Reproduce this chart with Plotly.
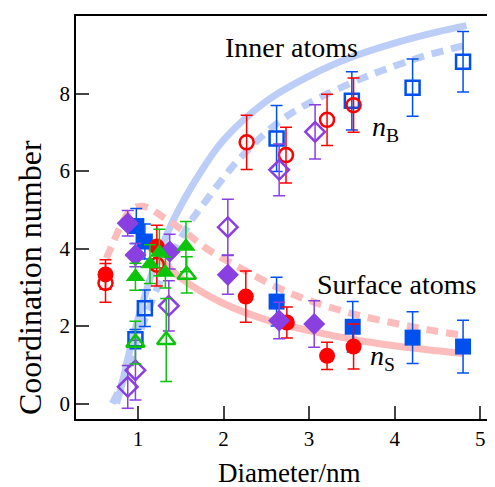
import plotly.graph_objects as go

# ---- data ----
# red circles
red_s_x = [0.62, 1.22, 2.26, 2.74, 3.21, 3.52]
red_s_y = [3.33, 4.05, 2.76, 2.09, 1.23, 1.47]
red_s_e = [0.38, 0.55, 0.66, 0.40, 0.35, 0.58]
red_b_x = [0.62, 1.22, 2.27, 2.73, 3.21, 3.52]
red_b_y = [3.11, 3.58, 6.74, 6.41, 7.32, 7.70]
red_b_e = [0.50, 0.55, 0.70, 0.72, 0.66, 0.70]
# blue squares
blue_s_x = [0.98, 1.08, 2.62, 3.51, 4.21, 4.80]
blue_s_y = [4.58, 4.18, 2.63, 1.98, 1.70, 1.47]
blue_s_e = [0.45, 0.45, 0.63, 0.65, 0.67, 0.68]
blue_b_x = [0.97, 1.08, 2.62, 3.50, 4.21, 4.80]
blue_b_y = [1.66, 2.46, 6.84, 7.81, 8.15, 8.82]
blue_b_e = [0.25, 0.47, 0.85, 0.75, 0.74, 0.78]
# purple diamonds
pur_s_x = [0.88, 0.97, 1.37, 2.05, 2.65, 3.06]
pur_s_y = [4.65, 3.83, 3.92, 3.32, 2.14, 2.05]
pur_s_e = [0.33, 0.30, 0.45, 0.50, 0.47, 0.60]
pur_b_x = [0.88, 0.97, 1.36, 2.05, 2.65, 3.07]
pur_b_y = [0.43, 0.86, 2.52, 4.55, 6.03, 7.01]
pur_b_e = [0.55, 0.77, 0.65, 0.72, 0.67, 0.70]
# green triangles
grn_s_x = [0.97, 1.14, 1.25, 1.32, 1.56]
grn_s_y = [3.27, 3.60, 3.90, 3.38, 4.05]
grn_s_e = [0.35, 0.50, 0.60, 0.40, 0.65]
grn_b_x = [0.97, 1.33, 1.57]
grn_b_y = [1.57, 1.64, 3.32]
grn_b_e = [0.55, 1.07, 0.47]

# model curves
nb_solid_x = [0.75, 0.8, 0.9, 1.0, 1.1, 1.2, 1.4, 1.7, 2.0, 2.5, 3.0, 3.5, 4.0, 4.5, 4.84]
nb_solid_y = [0.0, 0.40, 1.33, 2.18, 2.93, 3.59, 4.67, 5.86, 6.80, 7.80, 8.45, 8.94, 9.30, 9.59, 9.75]
nb_dash_x = [0.70, 0.8, 0.9, 1.0, 1.2, 1.4, 1.6, 1.8, 2.2, 2.73, 3.5, 4.0, 4.4, 4.8]
nb_dash_y = [0.0, 0.46, 1.06, 1.69, 2.85, 3.82, 4.64, 5.25, 6.35, 7.40, 8.28, 8.71, 9.00, 9.23]
ns_solid_x = [1.0, 1.2, 1.5, 2.0, 2.5, 3.0, 3.5, 4.0, 4.5, 4.8]
ns_solid_y = [4.46, 3.86, 3.24, 2.58, 2.16, 1.88, 1.66, 1.49, 1.36, 1.29]
ns_dash_x = [0.63, 0.7, 0.8, 0.9, 1.0, 1.1, 1.3, 1.56, 1.8, 2.2, 2.73, 3.0, 3.5, 4.0, 4.4, 4.77]
ns_dash_y = [3.75, 4.10, 4.60, 4.95, 5.08, 5.07, 4.80, 4.41, 4.00, 3.49, 2.89, 2.66, 2.32, 2.07, 1.90, 1.77]

x_ticks = [1, 2, 3, 4, 5]
y_ticks = [0, 2, 4, 6, 8]

RED = "#ff0000"
BLUE = "#0050ee"
PURPLE = "#8a40e0"
GREEN = "#0bc40b"
LBLUE = "#bccdf7"
PINK = "#fcbcbc"

fig = go.Figure()

def curve(x, y, color, dash):
    fig.add_trace(go.Scatter(x=x, y=y, mode="lines", line=dict(color=color, width=7, dash=dash, shape="spline"),
                             hoverinfo="skip", showlegend=False))

curve(nb_solid_x, nb_solid_y, LBLUE, "solid")
curve(nb_dash_x, nb_dash_y, LBLUE, "12px,8px")
curve(ns_solid_x, ns_solid_y, PINK, "solid")
curve(ns_dash_x, ns_dash_y, PINK, "12px,8px")

def pts(x, y, e, color, symbol, size, filled):
    marker = dict(symbol=symbol, size=size, color=color)
    if not filled:
        marker["line"] = dict(color=color, width=2.5)
    else:
        marker["line"] = dict(width=0)
    fig.add_trace(go.Scatter(x=x, y=y, mode="markers", marker=marker,
                             error_y=dict(type="data", array=e, visible=True, color=color, thickness=1.5, width=6),
                             showlegend=False))

pts(blue_b_x, blue_b_y, blue_b_e, BLUE, "square-open", 14, False)
pts(blue_s_x, blue_s_y, blue_s_e, BLUE, "square", 16, True)
pts(red_b_x, red_b_y, red_b_e, RED, "circle-open", 14, False)
pts(red_s_x, red_s_y, red_s_e, RED, "circle", 16, True)
pts(pur_b_x, pur_b_y, pur_b_e, PURPLE, "diamond-open", 15, False)
pts(pur_s_x, pur_s_y, pur_s_e, PURPLE, "diamond", 17, True)
pts(grn_b_x, grn_b_y, grn_b_e, GREEN, "triangle-up-open", 16, False)
pts(grn_s_x, grn_s_y, grn_s_e, GREEN, "triangle-up", 17, True)

FONT = "Liberation Serif, Times New Roman, serif"
ann = [
    dict(x=2.79, y=9.2, text="Inner atoms", xanchor="center", yanchor="middle"),
    dict(x=4.02, y=3.06, text="Surface atoms", xanchor="center", yanchor="middle"),
    dict(x=3.71, y=7.1, text="<i>n</i><sub>B</sub>", xanchor="left", yanchor="middle"),
    dict(x=3.69, y=1.2, text="<i>n</i><sub>S</sub>", xanchor="left", yanchor="middle"),
]
for a in ann:
    fig.add_annotation(**a, showarrow=False, font=dict(family=FONT, size=28, color="black"))

# axis titles as paper-positioned annotations (plot area: 417 x 403 px)
fig.add_annotation(text="Diameter/nm", xref="paper", yref="paper", x=(289 - 76) / 417, y=-(473 - 419) / 403,
                   xanchor="center", yanchor="middle", showarrow=False,
                   font=dict(family=FONT, size=27, color="black"))
fig.add_annotation(text="Coordination number", xref="paper", yref="paper", x=-(76 - 30) / 417, y=(419 - 278) / 403,
                   xanchor="center", yanchor="middle", textangle=-90, showarrow=False,
                   font=dict(family=FONT, size=32, color="black"))

# the page body adds an 8px offset, so the figure is 8px smaller on each side
fig.update_layout(
    width=487, height=479,
    margin=dict(l=68, r=2, t=8, b=68),
    paper_bgcolor="white", plot_bgcolor="white",
    font=dict(family=FONT, color="black"),
    xaxis=dict(range=[0.275, 5.15], tickvals=x_ticks, ticks="inside", ticklen=13, tickwidth=1.5,
               showline=True, linewidth=1.5, linecolor="black", mirror=True, showgrid=False, zeroline=False,
               tickfont=dict(family=FONT, size=21, color="black"), automargin=False),
    yaxis=dict(range=[-0.4, 10.0], tickvals=y_ticks, ticks="inside", ticklen=13, tickwidth=1.5,
               showline=True, linewidth=1.5, linecolor="black", showgrid=False, zeroline=False,
               tickfont=dict(family=FONT, size=21, color="black"), automargin=False),
)

fig.write_html("out.html")
